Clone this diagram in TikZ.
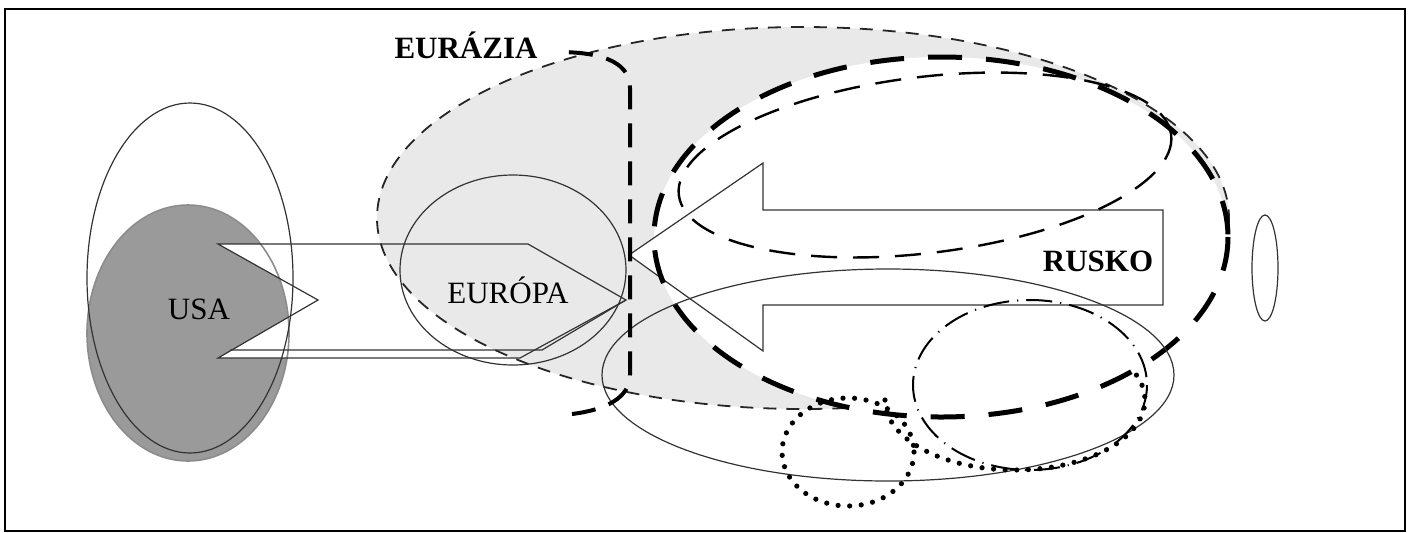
\documentclass[tikz,border=0pt]{standalone}
\usepackage{fontspec}
\setmainfont{Liberation Serif}
\usetikzlibrary{positioning}
\definecolor{usagray}{HTML}{9A9A9A}
\definecolor{eugray}{HTML}{E9E9E9}
\tikzset{
    thin line/.style={draw=black!80,line width=0.6pt},
    eurazia line/.style={draw=black!85,line width=0.9pt,dash pattern=on 6.5pt off 5pt},
    border line/.style={draw=black,line width=2pt,dash pattern=on 12pt off 7pt},
    rusko line/.style={draw=black,line width=2.5pt,dash pattern=on 17pt off 12pt},
    inner line/.style={draw=black,line width=1.2pt,dash pattern=on 13pt off 8pt},
    dashdot line/.style={draw=black,line width=1pt,dash pattern=on 13pt off 4pt on 0.6pt off 4pt},
    dot line/.style={draw=black,line width=2.6pt,line cap=round,dash pattern=on 0pt off 5.8pt},
    map label/.style={font=\fontsize{15.5}{18}\selectfont,inner sep=0pt,anchor=base},
    bold label/.style={map label,font=\fontsize{15.5}{18}\selectfont\bfseries},
}
\newcommand{\usaarrow}{(218,244) -- (528,244) -- (626,300) -- (520,358) -- (218,358) -- (318,300) -- cycle}

\begin{document}
\begin{tikzpicture}[x=0.5pt,y=-0.5pt]
    \useasboundingbox (0,0) rectangle (1410,532);
    % USA
    \fill[usagray] (188,333) ellipse [x radius=101, y radius=128];
    \fill[white] \usaarrow;
    % Eurazia and Europe
    \path[fill=eugray,eurazia line] (803,218) ellipse [x radius=426, y radius=191];
    \draw[thin line] (513,270) ellipse [x radius=113, y radius=95];
    % Rusko
    \fill[white] (941,237) ellipse [x radius=287, y radius=180];
    \draw[thin line,fill=white] (629,255) -- (763,163) -- (763,210) -- (1163,210) -- (1163,305) -- (763,305) -- (763,351) -- cycle;
    \draw[inner line,rotate around={7:(925,165)}] (925,165) ellipse [x radius=248, y radius=88];
    \draw[rusko line] (941,237) ellipse [x radius=287, y radius=180];
    \draw[thin line] (888,375) ellipse [x radius=286, y radius=106];
    \draw[dashdot line] (1030,385) ellipse [x radius=117, y radius=85];
    \draw[dot line] (848,452) ellipse [x radius=66, y radius=54];
    \draw[dot line] (885,400) arc [start angle=180, end angle=-25, x radius=130, y radius=70];
    \draw[thin line] (1265,268) ellipse [x radius=13, y radius=53];
    % border Europe / Asia
    \draw[border line] (572,414) .. controls (605,410) and (630,398) .. (630,375) -- (630,88) .. controls (630,60) and (597,52) .. (558,52);
    % USA outlines and arrow
    \draw[draw=black!45,line width=0.8pt] (188,333) ellipse [x radius=101, y radius=128];
    \draw[thin line] (190,278) ellipse [x radius=103, y radius=175];
    \draw[thin line] \usaarrow;
    \draw[thin line] (230,350) -- (542,350) -- (626,300);
    % labels
    \node[map label] (usa) at (199,319) {USA};
    \node[map label] (europa) at (508,303) {EURÓPA};
    \node[bold label] (eurazia) at (466,58) {EURÁZIA};
    \node[bold label] (rusko) at (1098,271) {RUSKO};
    \draw[line width=1pt] (5,9) rectangle (1405,531);
\end{tikzpicture}
\end{document}
